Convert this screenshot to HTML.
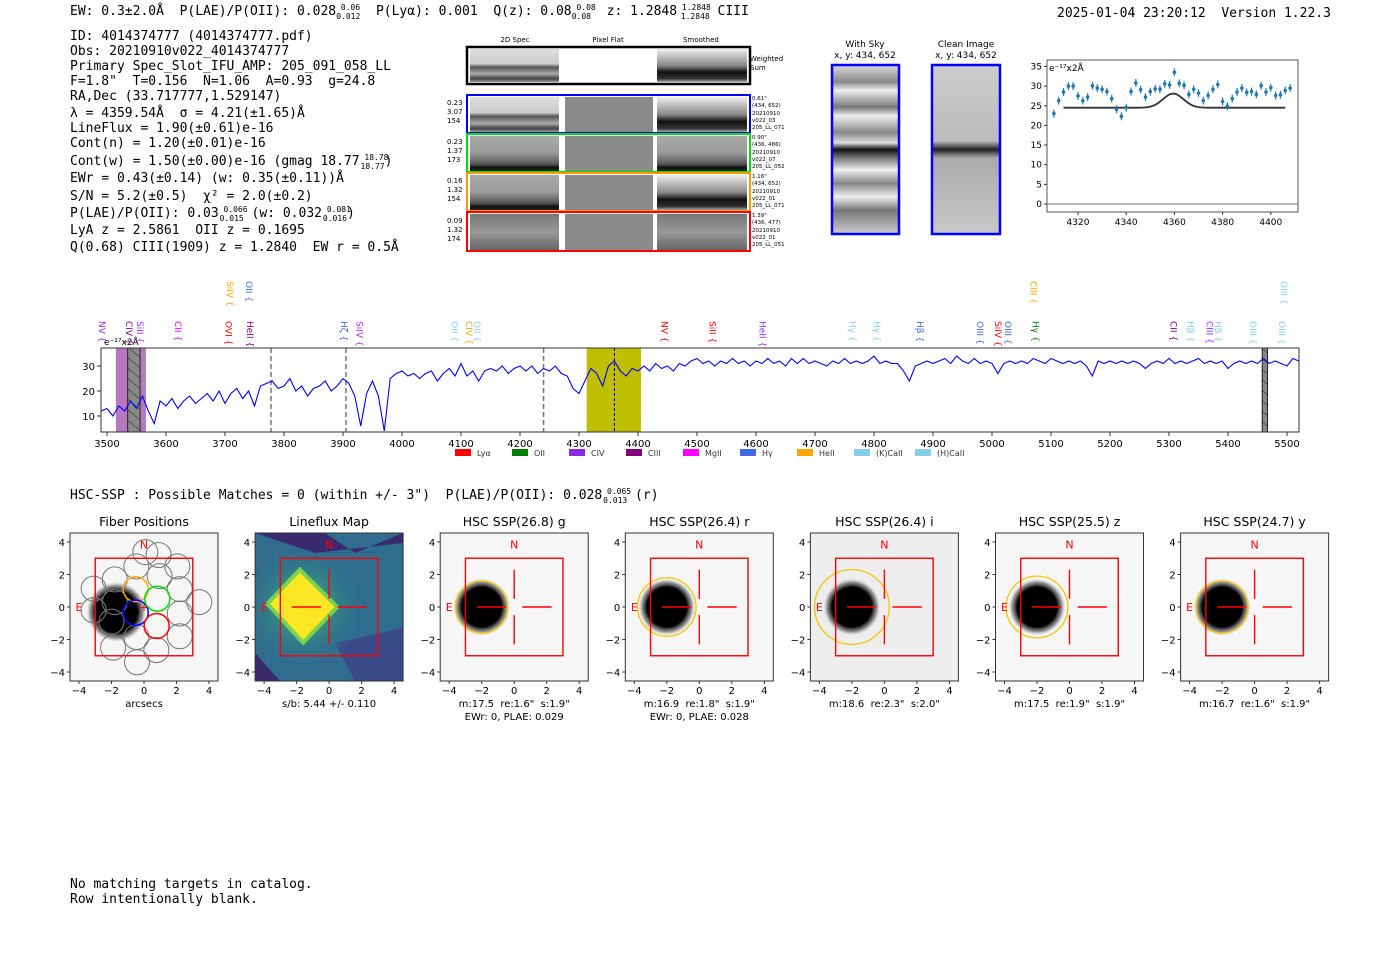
<!DOCTYPE html>
<html><head><meta charset="utf-8"><style>
body{margin:0;background:#fff;width:1400px;height:953px;overflow:hidden}
svg{display:block}
.m{font-family:"DejaVu Sans Mono","Liberation Mono",monospace;font-size:13px;fill:#000;white-space:pre}
.s{font-family:"DejaVu Sans","Liberation Sans",sans-serif;white-space:pre}
</style></head><body>
<svg id="root" width="1400" height="953" viewBox="0 0 1400 953" xmlns="http://www.w3.org/2000/svg" xml:space="preserve">
<defs>
<pattern id="hatch" width="8" height="8" patternUnits="userSpaceOnUse" patternTransform="rotate(-50)"><rect width="8" height="8" fill="#888"/><line x1="0" y1="0" x2="0" y2="8" stroke="#222" stroke-width="1"/></pattern>
<linearGradient id="stripeA" x1="0" y1="0" x2="0" y2="1"><stop offset="0" stop-color="#ddd"/><stop offset=".45" stop-color="#ccc"/><stop offset=".55" stop-color="#555"/><stop offset=".75" stop-color="#aaa"/><stop offset=".9" stop-color="#444"/><stop offset="1" stop-color="#999"/></linearGradient>
<linearGradient id="stripeB" x1="0" y1="0" x2="0" y2="1"><stop offset="0" stop-color="#eee"/><stop offset=".5" stop-color="#888"/><stop offset=".7" stop-color="#111"/><stop offset=".9" stop-color="#333"/><stop offset="1" stop-color="#aaa"/></linearGradient>
<linearGradient id="stripeC" x1="0" y1="0" x2="0" y2="1"><stop offset="0" stop-color="#aaa"/><stop offset=".5" stop-color="#999"/><stop offset=".8" stop-color="#555"/><stop offset=".9" stop-color="#111"/><stop offset="1" stop-color="#222"/></linearGradient>
<linearGradient id="stripeD" x1="0" y1="0" x2="0" y2="1"><stop offset="0" stop-color="#777"/><stop offset=".5" stop-color="#999"/><stop offset="1" stop-color="#666"/></linearGradient>
<linearGradient id="sky" x1="0" y1="0" x2="0" y2="1"><stop offset="0" stop-color="#ddd"/><stop offset=".1" stop-color="#888"/><stop offset=".15" stop-color="#eee"/><stop offset=".25" stop-color="#777"/><stop offset=".3" stop-color="#eee"/><stop offset=".4" stop-color="#888"/><stop offset=".46" stop-color="#ddd"/><stop offset=".5" stop-color="#111"/><stop offset=".55" stop-color="#777"/><stop offset=".62" stop-color="#eee"/><stop offset=".7" stop-color="#888"/><stop offset=".78" stop-color="#eee"/><stop offset=".86" stop-color="#777"/><stop offset="1" stop-color="#ccc"/></linearGradient>
<linearGradient id="clean" x1="0" y1="0" x2="0" y2="1"><stop offset="0" stop-color="#ccc"/><stop offset=".45" stop-color="#bbb"/><stop offset=".5" stop-color="#222"/><stop offset=".55" stop-color="#aaa"/><stop offset="1" stop-color="#c8c8c8"/></linearGradient>
<radialGradient id="blob"><stop offset="0" stop-color="#000"/><stop offset=".68" stop-color="#000"/><stop offset=".85" stop-color="#555" stop-opacity=".6"/><stop offset="1" stop-color="#fff" stop-opacity="0"/></radialGradient>
<radialGradient id="glow"><stop offset="0" stop-color="#4ec36b"/><stop offset="1" stop-color="#2a788e" stop-opacity="0"/></radialGradient>
</defs>

<text class="m" x="70" y="15">EW: 0.3±2.0Å  P(LAE)/P(OII): 0.028<tspan font-size="8" dy="-5"> 0.06</tspan><tspan font-size="8" dx="-24" dy="9">0.012</tspan><tspan dy="-4">  P(Lyα): 0.001  Q(z): 0.08</tspan><tspan font-size="8" dy="-5"> 0.08</tspan><tspan font-size="8" dx="-24" dy="9">0.08</tspan><tspan dy="-4">  z: 1.2848</tspan><tspan font-size="8" dy="-5"> 1.2848</tspan><tspan font-size="8" dx="-30" dy="9">1.2848</tspan><tspan dy="-4"> CIII</tspan></text>
<text class="m" x="1057" y="17">2025-01-04 23:20:12  Version 1.22.3</text>

<g class="m">
<text class="m" x="70" y="40">ID: 4014374777 (4014374777.pdf)</text>
<text class="m" x="70" y="55">Obs: 20210910v022_4014374777</text>
<text class="m" x="70" y="70">Primary Spec_Slot_IFU_AMP: 205_091_058_LL</text>
<text class="m" x="70" y="85">F=1.8" &#160;T=0.156 &#160;N=1.06 &#160;A=0.93 &#160;g=24.8</text>
<text class="m" x="70" y="100">RA,Dec (33.717777,1.529147)</text>
<text class="m" x="70" y="117">λ = 4359.54Å &#160;σ = 4.21(±1.65)Å</text>
<text class="m" x="70" y="132">LineFlux = 1.90(±0.61)e-16</text>
<text class="m" x="70" y="147">Cont(n) = 1.20(±0.01)e-16</text>
<text class="m" x="70" y="165">Cont(w) = 1.50(±0.00)e-16 (gmag 18.77<tspan font-size="8" dy="-5">&#160;18.78</tspan><tspan font-size="8" dx="-28" dy="9">18.77</tspan><tspan dy="-4">)</tspan></text>
<text class="m" x="70" y="182">EWr = 0.43(±0.14) (w: 0.35(±0.11))Å</text>
<text class="m" x="70" y="200">S/N = 5.2(±0.5) &#160;χ² = 2.0(±0.2)</text>
<text class="m" x="70" y="217">P(LAE)/P(OII): 0.03<tspan font-size="8" dy="-5">&#160;0.066</tspan><tspan font-size="8" dx="-28" dy="9">0.015</tspan><tspan dy="-4">&#160;(w: 0.032</tspan><tspan font-size="8" dy="-5">&#160;0.081</tspan><tspan font-size="8" dx="-28" dy="9">0.016</tspan><tspan dy="-4">)</tspan></text>
<text class="m" x="70" y="234">LyA z = 2.5861 &#160;OII z = 0.1695</text>
<text class="m" x="70" y="251">Q(0.68) CIII(1909) z = 1.2840 &#160;EW r = 0.5Å</text>
</g>

<g class="s" font-size="7">
<text x="515" y="42" text-anchor="middle">2D Spec</text>
<text x="608" y="42" text-anchor="middle">Pixel Flat</text>
<text x="701" y="42" text-anchor="middle">Smoothed</text>
<rect x="467" y="47" width="283" height="37" fill="#fff" stroke="#000" stroke-width="2.5"/>
<rect x="470" y="49" width="89" height="33" fill="url(#stripeA)"/>
<rect x="657" y="49" width="90" height="33" fill="url(#stripeB)"/>
<text x="750" y="61">Weighted</text><text x="750" y="70">Sum</text>
<g><rect x="467" y="95" width="283" height="38" fill="#fff" stroke="#00f" stroke-width="2"/><rect x="470" y="97" width="89" height="35" fill="url(#stripeA)"/><rect x="565" y="97" width="88" height="35" fill="#8a8a8a"/><rect x="657" y="97" width="90" height="35" fill="url(#stripeB)"/>
<text x="447" y="105">0.23</text><text x="447" y="114">3.07</text><text x="447" y="123">154</text>
<text x="752" y="100" font-size="5.5">0.61"</text><text x="752" y="107" font-size="5.5">(434, 652)</text><text x="752" y="115" font-size="5.5">20210910</text><text x="752" y="122" font-size="5.5">v022_03</text><text x="752" y="129" font-size="5.5">205_LL_071</text></g>
<g><rect x="467" y="134" width="283" height="38" fill="#fff" stroke="#0d0" stroke-width="2"/><rect x="470" y="136" width="89" height="35" fill="url(#stripeC)"/><rect x="565" y="136" width="88" height="35" fill="#8a8a8a"/><rect x="657" y="136" width="90" height="35" fill="url(#stripeC)"/>
<text x="447" y="144">0.23</text><text x="447" y="153">1.37</text><text x="447" y="162">173</text>
<text x="752" y="139" font-size="5.5">0.90"</text><text x="752" y="146" font-size="5.5">(436, 486)</text><text x="752" y="154" font-size="5.5">20210910</text><text x="752" y="161" font-size="5.5">v022_07</text><text x="752" y="168" font-size="5.5">205_LL_052</text></g>
<g><rect x="467" y="173" width="283" height="38" fill="#fff" stroke="#f90" stroke-width="2"/><rect x="470" y="175" width="89" height="35" fill="url(#stripeC)"/><rect x="565" y="175" width="88" height="35" fill="#8a8a8a"/><rect x="657" y="175" width="90" height="35" fill="url(#stripeB)"/>
<text x="447" y="183">0.16</text><text x="447" y="192">1.32</text><text x="447" y="201">154</text>
<text x="752" y="178" font-size="5.5">1.16"</text><text x="752" y="185" font-size="5.5">(434, 652)</text><text x="752" y="193" font-size="5.5">20210910</text><text x="752" y="200" font-size="5.5">v022_01</text><text x="752" y="207" font-size="5.5">205_LL_071</text></g>
<g><rect x="467" y="212" width="283" height="39" fill="#fff" stroke="#f00" stroke-width="2"/><rect x="470" y="214" width="89" height="36" fill="url(#stripeD)"/><rect x="565" y="214" width="88" height="36" fill="#8a8a8a"/><rect x="657" y="214" width="90" height="36" fill="url(#stripeD)"/>
<text x="447" y="223">0.09</text><text x="447" y="232">1.32</text><text x="447" y="241">174</text>
<text x="752" y="217" font-size="5.5">1.39"</text><text x="752" y="224" font-size="5.5">(436, 477)</text><text x="752" y="232" font-size="5.5">20210910</text><text x="752" y="239" font-size="5.5">v022_01</text><text x="752" y="246" font-size="5.5">205_LL_051</text></g>
</g>

<g class="s" font-size="9" text-anchor="middle">
<text x="865" y="47">With Sky</text><text x="865" y="58">x, y: 434, 652</text>
<rect x="832" y="65" width="67" height="169" fill="url(#sky)" stroke="#00f" stroke-width="2.5"/>
<text x="966" y="47">Clean Image</text><text x="966" y="58">x, y: 434, 652</text>
<rect x="932" y="65" width="68" height="169" fill="url(#clean)" stroke="#00f" stroke-width="2.5"/>
</g>

<g id="inset"></g>
<g id="spec"></g>

<text class="m" x="70" y="499">HSC-SSP : Possible Matches = 0 (within +/- 3")  P(LAE)/P(OII): 0.028<tspan font-size="8" dy="-5"> 0.065</tspan><tspan font-size="8" dx="-28" dy="9">0.013</tspan><tspan dy="-4"> (r)</tspan></text>

<g id="panels"></g>

<text class="m" x="70" y="888">No matching targets in catalog.</text>
<text class="m" x="70" y="903">Row intentionally blank.</text>
</svg>
<script>
const NS='http://www.w3.org/2000/svg';
function mk(parent,tag,attrs,txt){const e=document.createElementNS(NS,tag);for(const k in attrs)e.setAttribute(k,attrs[k]);if(txt!==undefined)e.textContent=txt;parent.appendChild(e);return e;}

const specStart=3490, specStep=10;
const specFlux=[12,13,10,14,12,16,13,18,12,7,16,
14,17,13,16,18,15,17,19,16,20,
15,19,21,17,20,14,22,23,24,21,
22,25,20,22,18,21,22,24,20,22,
25,23,18,6,19,24,18,4,25,27,
28,26,27,25,27,28,24,27,29,26,
31,26,28,24,28,29,28,30,27,29,
30,28,30,27,29,28,30,27,26,21,
19,24,29,27,22,30,32,28,26,29,
28,30,28,31,29,30,28,31,30,32,
33,31,32,30,32,31,33,31,32,30,
32,31,33,31,32,30,33,31,33,31,
32,31,30,32,31,33,31,32,31,32,
34,31,32,31,31,28,24,30,31,32,
31,32,33,31,34,32,31,33,31,32,
31,27,31,32,31,32,31,33,32,31,
33,32,31,32,31,32,30,26,32,31,
32,31,32,31,32,31,29,31,32,31,
33,31,32,31,32,33,31,32,31,32,
29,31,32,31,32,31,33,31,32,31,
30,33,32];
const specTicks=[3500,3600,3700,3800,3900,4000,4100,4200,4300,4400,4500,4600,4700,4800,4900,5000,5100,5200,5300,5400,5500];
const specYTicks=[10,20,30];
const lineNames=['NV','CIV','SiII','CII','OVI','HeII','Hζ','SiIV','OII','CIV','OII','NV','SiII','HeII','Hγ','Hγ','Hβ','OIII','SiIV','OIII','Hγ','CII','Hβ','CIII','Hβ','OIII','OIII','SiIV','OII','CIII','OIII'];
const lineWaves=[3493,3539,3558,3622,3708,3744,3903,3930,4091,4115,4129,4447,4528,4613,4765,4807,4880,4981,5012,5029,5075,5309,5338,5370,5385,5444,5493,3710,3742,5072,5497];
const lineColors=['#9b30ff','#800080','#9b30ff','#ff00ff','#ff0000','#800080','#4169e1','#9b30ff','#87ceeb','#ffa500','#87ceeb','#ff0000','#ff0000','#9b30ff','#87ceeb','#87ceeb','#4169e1','#4169e1','#ff0000','#4169e1','#008000','#800080','#87ceeb','#9b30ff','#87ceeb','#87ceeb','#87ceeb','#ffa500','#4169e1','#ffa500','#87ceeb'];
const lineRow=[0,0,0,0,0,0,0,0,0,0,0,0,0,0,0,0,0,0,0,0,0,0,0,0,0,0,0,1,1,1,1];
const legendNames=['Lyα','OII','CIV','CIII','MgII','Hγ','HeII','(K)CaII','(H)CaII'];
const legendColors=['#ff0000','#008000','#8a2be2','#800080','#ff00ff','#4169e1','#ffa500','#87ceeb','#87ceeb'];

const insetStart=4310, insetStep=2;
const insetFlux=[23,26.3,28.5,30,30,27.5,26.3,27.2,30.1,29.5,29.2,28.6,26.8,24.1,22.3,24.5,28.6,30.8,29.1,27.2,28.6,29.3,29.2,30.6,30.3,33.5,30.7,30.2,27.9,29.2,28.2,26.3,27.6,29.2,30.4,26.1,24.9,26.8,28.5,29.5,28.4,28.6,27.9,30.1,28.5,29.6,27.6,27.8,28.9,29.5];
const insetErr=[1,1,1,1,1,1,1,1,1,1,1,1,1,1,1,1,1,1,1,1,1,1,1,1,1,1,1,1,1,1,1,1,1,1,1,1,1,1,1,1,1,1,1,1,1,1,1,1,1,1];
const fitParams=[24.5,3.6,4359.5,4.2];
const insetXTicks=[4320,4340,4360,4380,4400];
const insetYTicks=[0,5,10,15,20,25,30,35];

(function(){
const g=document.getElementById('spec');
const L=101,R=1299,T=348,B=432;
const x=w=>107+(w-3500)*0.59, y=v=>441-2.5*v;
const bg=mk(g,'rect',{x:L,y:T,width:R-L,height:B-T,fill:'#fff'});


let r=mk(g,'rect',{x:x(3515),y:T,width:x(3566)-x(3515),height:B-T,fill:'#b679c0'});


r=mk(g,'rect',{x:x(3535),y:T,width:x(3556)-x(3535),height:B-T,fill:'url(#hatch)',stroke:'#222','stroke-width':1});


r=mk(g,'rect',{x:x(4313),y:T,width:x(4405)-x(4313),height:B-T,fill:'#bfbf00'});


r=mk(g,'rect',{x:x(5458),y:T,width:x(5467)-x(5458),height:B-T,fill:'url(#hatch)',stroke:'#222','stroke-width':1});


[3778,3905,4240].forEach(w=>{const l=mk(g,'line',{x1:x(w),x2:x(w),y1:T,y2:B,stroke:'#777','stroke-width':1.5,'stroke-dasharray':'5,3'});

});
const dl=mk(g,'line',{x1:x(4360),x2:x(4360),y1:T,y2:B,stroke:'#000','stroke-width':1,'stroke-dasharray':'3,2'});


const pts=specFlux.map((v,i)=>x(specStart+i*specStep).toFixed(1)+','+y(v).toFixed(1)).join(' ');
const pl=mk(g,'polyline',{points:pts,fill:'none',stroke:'#0000ff','stroke-width':1.1});


const fr=mk(g,'rect',{x:L,y:T,width:R-L,height:B-T,fill:'none',stroke:'#333','stroke-width':1});


specTicks.forEach(t=>{mk(g,'line',{x1:x(t),x2:x(t),y1:B,y2:B+4,stroke:'#333'});
const tx=mk(g,'text',{x:x(t),y:B+15,'text-anchor':'middle','font-size':10,class:'s'},t);

});
specYTicks.forEach(t=>{mk(g,'line',{x1:L-4,x2:L,y1:y(t),y2:y(t),stroke:'#333'});
const tx=mk(g,'text',{x:L-6,y:y(t)+4,'text-anchor':'end','font-size':10,class:'s'},t);

});
const u=mk(g,'text',{x:104,y:345,'font-size':9,class:'s'},'e⁻¹⁷x2Å');


lineNames.forEach((n,i)=>{const px=x(lineWaves[i])-4, py=lineRow[i]?281:321;
const t=mk(g,'text',{x:px,y:py,'font-size':9,class:'s',fill:lineColors[i],transform:`rotate(90 ${px} ${py})`},n+' {');

});
legendNames.forEach((n,i)=>{const lx=455+i*57+(i>7?4:0);
const sw=mk(g,'rect',{x:lx,y:449,width:16,height:7,fill:legendColors[i]});


const t=mk(g,'text',{x:lx+22,y:456,'font-size':8,class:'s',fill:'#333'},n);

});
})();

(function(){
const g=document.getElementById('inset');
const L=1047,R=1298,T=60,B=212;
const x=w=>1078+(w-4320)*2.41, y=v=>204-3.93*v;
const fr=mk(g,'rect',{x:L,y:T,width:R-L,height:B-T,fill:'#fff',stroke:'#555','stroke-width':1});


const zl=mk(g,'line',{x1:L,x2:R,y1:y(0),y2:y(0),stroke:'#777','stroke-width':1});


let d='';
for(let w=4314;w<=4406;w+=0.5){const v=fitParams[0]+fitParams[1]*Math.exp(-0.5*((w-fitParams[2])/fitParams[3])**2);d+=(d?'L':'M')+x(w).toFixed(1)+','+y(v).toFixed(1);}
const fp=mk(g,'path',{d:d,fill:'none',stroke:'#333','stroke-width':1.8});


insetFlux.forEach((v,i)=>{const px=x(insetStart+i*insetStep);
const eb=mk(g,'line',{x1:px,x2:px,y1:y(v+insetErr[i]),y2:y(v-insetErr[i]),stroke:'#1f77b4','stroke-width':1.2});


const p=mk(g,'circle',{cx:px,cy:y(v),r:1.8,fill:'#1f77b4'});

});
insetXTicks.forEach(t=>{mk(g,'line',{x1:x(t),x2:x(t),y1:B,y2:B+3,stroke:'#333'});
const tx=mk(g,'text',{x:x(t),y:B+13,'text-anchor':'middle','font-size':9,class:'s'},t);

});
insetYTicks.forEach(t=>{mk(g,'line',{x1:L-3,x2:L,y1:y(t),y2:y(t),stroke:'#333'});
const tx=mk(g,'text',{x:L-5,y:y(t)+3,'text-anchor':'end','font-size':9,class:'s'},t);

});
const u=mk(g,'text',{x:L+2,y:T+11,'font-size':9,class:'s'},'e⁻¹⁷x2Å');


})();

const panelTitles=['Fiber Positions','Lineflux Map','HSC SSP(26.8) g','HSC SSP(26.4) r','HSC SSP(26.4) i','HSC SSP(25.5) z','HSC SSP(24.7) y'];
const panelSub1=['arcsecs','s/b: 5.44 +/- 0.110','m:17.5  re:1.6"  s:1.9"','m:16.9  re:1.8"  s:1.9"','m:18.6  re:2.3"  s:2.0"','m:17.5  re:1.9"  s:1.9"','m:16.7  re:1.6"  s:1.9"'];
const panelSub2=['','','EWr: 0, PLAE: 0.029','EWr: 0, PLAE: 0.028','','',''];
const panelRe=[0,0,1.6,1.8,2.3,1.9,1.6];
const fibers=[[-1.8,1.7],[-0.47,2.5],[0.08,3.38],[0.96,1.9],[2.05,2.5],[-3.1,1.13],[-1.8,0.3],[-2.0,-0.9],[2.2,1.1],[3.4,0.3],[2.2,-0.4],[2.2,-1.8],[-1.9,-2.5],[-0.47,-1.85],[0.76,-2.65],[-0.43,-3.4],[-3.1,-0.2],[0.9,3.2]];
const coloredFibers=[[-0.51,1.09,'#ffa500'],[-0.51,-0.35,'#0000ff'],[0.82,0.51,'#00dd00'],[0.78,-1.17,'#ff0000']];
const axTicks=[-4,-2,0,2,4];
(function(){
const root=document.getElementById('panels');
panelTitles.forEach((title,p)=>{
const cx0=144+p*185.1, cy0=607, s=16.25, L=cx0-74, T=533, W=148, H=148;
const X=a=>cx0+a*s, Y=b=>cy0-b*s;
const g=mk(root,'g',{});


const cid='clip'+p;
const cp=mk(g,'clipPath',{id:cid});mk(cp,'rect',{x:L,y:T,width:W,height:H});
const inner=mk(g,'g',{'clip-path':`url(#${cid})`});
if(p===1){
mk(inner,'rect',{x:L,y:T,width:W,height:H,fill:'#2f6c8e'});
mk(inner,'polygon',{points:`${L},${T} ${L+70},${T} ${L+100},${T+20} ${L+148},${T} ${L+148},${T+10} ${L+60},${T+20}`,fill:'#3b2a6e'});
mk(inner,'polygon',{points:`${L+80},${T+110} ${L+148},${T+95} ${L+148},${T+148} ${L+100},${T+148}`,fill:'#3a4b8a'});
mk(inner,'polygon',{points:`${L},${T+120} ${L+25},${T+148} ${L},${T+148}`,fill:'#3b2a6e'});
mk(inner,'circle',{cx:X(-1.6),cy:Y(0),r:60,fill:'url(#glow)'});
const ys=mk(inner,'polygon',{points:`${X(-1.8)},${Y(2.3)} ${X(0.5)},${Y(0)} ${X(-1.6)},${Y(-2.2)} ${X(-3.8)},${Y(0.2)}`,fill:'#fde725',stroke:'#7ad151','stroke-width':4});


}else{
mk(inner,'rect',{x:L,y:T,width:W,height:H,fill:p===4?'#eeeeee':'#f6f6f6'});
const bx=p===0?-1.7:-2, by=p===0?-0.3:0, br=p===0?1.9:1.8;
const b=mk(inner,'circle',{cx:X(bx),cy:Y(by),r:br*s,fill:'url(#blob)'});


}
if(p===0){
fibers.forEach(f=>{const c=mk(inner,'circle',{cx:X(f[0]),cy:Y(f[1]),r:0.77*s,fill:'none',stroke:'#777','stroke-width':1});

});
coloredFibers.forEach(f=>{const c=mk(inner,'circle',{cx:X(f[0]),cy:Y(f[1]),r:0.77*s,fill:'none',stroke:f[2],'stroke-width':1.5});

});
mk(inner,'text',{x:X(0),y:Y(0)+4,'text-anchor':'middle','font-size':11,fill:'#f00',class:'s'},'+');
}
if(panelRe[p]){const c=mk(inner,'circle',{cx:X(-2),cy:Y(0),r:panelRe[p]*s,fill:'none',stroke:'#f5c400','stroke-width':1.3});

}
const sq=mk(inner,'rect',{x:X(-3),y:Y(3),width:6*s,height:6*s,fill:'none',stroke:'#f00','stroke-width':1.4});


if(p>0){[[0.5,0,2.3,0],[-2.3,0,-0.5,0],[0,0.5,0,2.3],[0,-0.5,0,-2.3]].forEach(c=>{
const l=mk(inner,'line',{x1:X(c[0]),y1:Y(c[1]),x2:X(c[2]),y2:Y(c[3]),stroke:'#f00','stroke-width':1.4});

});}
const n=mk(g,'text',{x:X(0),y:Y(3.6),'text-anchor':'middle','font-size':11,fill:'#f00',class:'s'},'N');


const e=mk(g,'text',{x:X(-4.0),y:Y(0)+4,'text-anchor':'middle','font-size':11,fill:'#f00',class:'s'},'E');


const fr=mk(g,'rect',{x:L,y:T,width:W,height:H,fill:'none',stroke:'#333','stroke-width':1});


axTicks.forEach(t=>{mk(g,'line',{x1:X(t),x2:X(t),y1:T+H,y2:T+H+3,stroke:'#333'});
const tx=mk(g,'text',{x:X(t),y:T+H+13,'text-anchor':'middle','font-size':10,class:'s'},t<0?'−'+(-t):t);


mk(g,'line',{x1:L-3,x2:L,y1:Y(t),y2:Y(t),stroke:'#333'});
const ty=mk(g,'text',{x:L-5,y:Y(t)+4,'text-anchor':'end','font-size':10,class:'s'},t<0?'−'+(-t):t);

});
const tt=mk(g,'text',{x:cx0,y:526,'text-anchor':'middle','font-size':12.5,class:'s'},title);


const s1=mk(g,'text',{x:cx0,y:707,'text-anchor':'middle','font-size':10,class:'s'},panelSub1[p]);


if(panelSub2[p]){const s2=mk(g,'text',{x:cx0,y:720,'text-anchor':'middle','font-size':10,class:'s'},panelSub2[p]);

}
});
})();
</script>
</body></html>
